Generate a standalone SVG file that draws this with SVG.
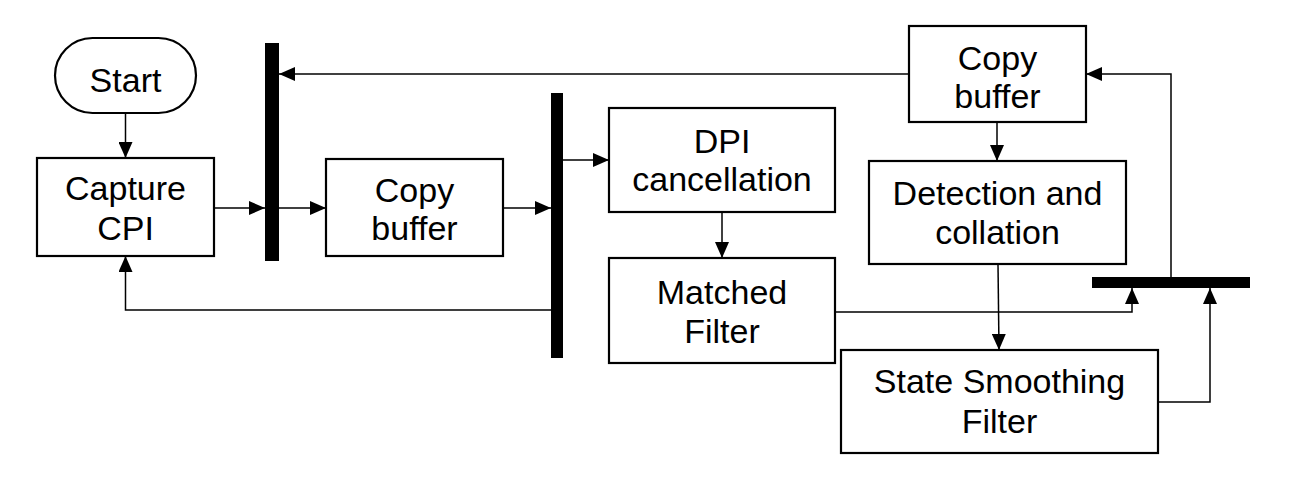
<svg xmlns="http://www.w3.org/2000/svg" width="1290" height="492" viewBox="0 0 1290 492">
<style>
.box{fill:#fff;stroke:#000;stroke-width:2.2}
.bar{fill:#000}
.lbl{font-family:"Liberation Sans",Arial,sans-serif;font-size:34px;fill:#000;text-anchor:middle}
.ln{fill:none;stroke:#000;stroke-width:1.5}
</style>
<defs>
<marker id="ah" viewBox="0 0 16 14" refX="16" refY="7" markerWidth="16" markerHeight="14" markerUnits="userSpaceOnUse" orient="auto">
<path d="M0,0 L16,7 L0,14 Z" fill="#000"/>
</marker>
</defs>
<rect width="1290" height="492" fill="#fff"/>
<g id="connectors">
<path class="ln" d="M125.5,113 V158" marker-end="url(#ah)"/>
<path class="ln" d="M214,208 H265" marker-end="url(#ah)"/>
<path class="ln" d="M279,208 H326" marker-end="url(#ah)"/>
<path class="ln" d="M503,208 H551" marker-end="url(#ah)"/>
<path class="ln" d="M563,160 H609" marker-end="url(#ah)"/>
<path class="ln" d="M551,310 H125.5 V256" marker-end="url(#ah)"/>
<path class="ln" d="M722,212 V258" marker-end="url(#ah)"/>
<path class="ln" d="M835,312 H1132 V288" marker-end="url(#ah)"/>
<path class="ln" d="M909,74 H279" marker-end="url(#ah)"/>
<path class="ln" d="M997,122 V161" marker-end="url(#ah)"/>
<path class="ln" d="M998,264 L999,350" marker-end="url(#ah)"/>
<path class="ln" d="M1158,402 H1210 V288" marker-end="url(#ah)"/>
<path class="ln" d="M1171,277 V74 H1086" marker-end="url(#ah)"/>
</g>
<g id="start">
<rect class="box" x="55" y="38" width="141" height="75" rx="37.5"/>
<text class="lbl" x="125.5" y="92">Start</text>
</g>
<g id="capture">
<rect class="box" x="37" y="158" width="177" height="98"/>
<text class="lbl" x="125.5" y="200">Capture</text>
<text class="lbl" x="125.5" y="240">CPI</text>
</g>
<g id="bar1"><rect class="bar" x="265" y="43" width="14" height="218"/></g>
<g id="copy1">
<rect class="box" x="326" y="159" width="177" height="97"/>
<text class="lbl" x="414.5" y="202">Copy</text>
<text class="lbl" x="414.5" y="240">buffer</text>
</g>
<g id="bar2"><rect class="bar" x="551" y="93" width="12" height="265"/></g>
<g id="dpi">
<rect class="box" x="609" y="108" width="226" height="104"/>
<text class="lbl" x="722" y="153">DPI</text>
<text class="lbl" x="722" y="191">cancellation</text>
</g>
<g id="matched">
<rect class="box" x="609" y="258" width="226" height="105"/>
<text class="lbl" x="722" y="304">Matched</text>
<text class="lbl" x="722" y="343">Filter</text>
</g>
<g id="copy2">
<rect class="box" x="909" y="26" width="177" height="96"/>
<text class="lbl" x="997.5" y="70">Copy</text>
<text class="lbl" x="997.5" y="108">buffer</text>
</g>
<g id="detection">
<rect class="box" x="869" y="161" width="257" height="103"/>
<text class="lbl" x="997.5" y="205">Detection and</text>
<text class="lbl" x="997.5" y="244">collation</text>
</g>
<g id="bar3"><rect class="bar" x="1092" y="277" width="158" height="11"/></g>
<g id="state">
<rect class="box" x="841" y="350" width="317" height="103"/>
<text class="lbl" x="999.5" y="393">State Smoothing</text>
<text class="lbl" x="999.5" y="433">Filter</text>
</g>
</svg>
